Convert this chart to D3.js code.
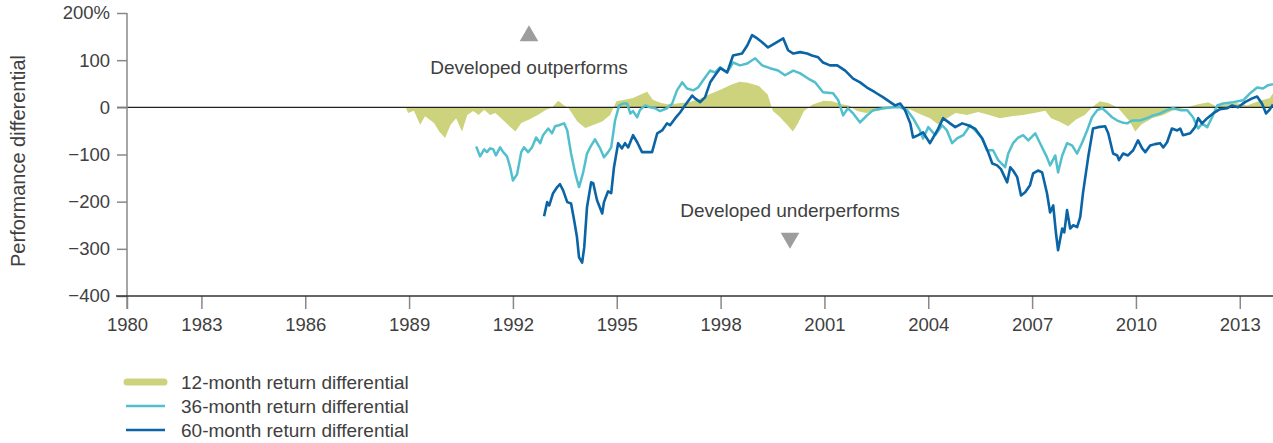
<!DOCTYPE html>
<html>
<head>
<meta charset="utf-8">
<script src="https://cdn.jsdelivr.net/npm/d3@7"></script>
<style>
  body { margin: 0; background: #fff; }
  text { font-family: "Liberation Sans", Arial, sans-serif; fill: #404040; }
</style>
</head>
<body>
<div id="chart"></div>
<script>
let width = 1273,
    height = 443;

// x ticks: first one sits on the axis origin and is labelled 1980
const xTickYears = [1980.85, 1983, 1986, 1989, 1992, 1995, 1998, 2001, 2004, 2007, 2010, 2013];
const xTickLabels = ["1980", "1983", "1986", "1989", "1992", "1995", "1998", "2001", "2004", "2007", "2010", "2013"];
const yTicks = [200, 100, 0, -100, -200, -300, -400];

// 12-month return differential (area)
const m12Years = [1988.90, 1988.97, 1989.14, 1989.32, 1989.46, 1989.72, 1989.87, 1990.04, 1990.20, 1990.36, 1990.53, 1990.68, 1990.85, 1991.01, 1991.17, 1991.34, 1991.49, 1991.66, 1991.90, 1992.07, 1992.24, 1992.47, 1992.72, 1992.96, 1993.12, 1993.31, 1993.48, 1993.60, 1993.86, 1994.09, 1994.34, 1994.58, 1994.81, 1994.99, 1995.23, 1995.47, 1995.71, 1995.88, 1996.04, 1996.28, 1996.52, 1996.85, 1997.09, 1997.33, 1997.66, 1997.98, 1998.30, 1998.55, 1998.79, 1999.11, 1999.36, 1999.51, 1999.69, 1999.92, 2000.09, 2000.24, 2000.41, 2000.66, 2000.98, 2001.22, 2001.47, 2001.71, 2001.94, 2002.20, 2002.52, 2002.84, 2003.16, 2003.49, 2003.82, 2004.05, 2004.30, 2004.54, 2004.79, 2005.12, 2005.44, 2005.76, 2006.07, 2006.41, 2006.74, 2007.06, 2007.38, 2007.55, 2007.78, 2008.04, 2008.27, 2008.52, 2008.76, 2008.96, 2009.20, 2009.48, 2009.82, 2009.98, 2010.15, 2010.47, 2010.79, 2011.03, 2011.44, 2011.77, 2012.09, 2012.33, 2012.58, 2012.89, 2013.21, 2013.54, 2013.87, 2013.96];
const m12Values = [0, -12, -7, -37, -19, -33, -51, -65, -37, -23, -51, -16, -8, -16, -5, -16, -12, -23, -40, -51, -33, -26, -16, -5, -1, 14, 4, -1, -30, -44, -37, -30, -16, 13, 16, 20, 28, 33, 16, 9, 6, 9, 11, 16, 27, 37, 48, 54, 52, 45, 27, -8, -19, -37, -51, -33, -8, 6, 14, 13, 7, 4, -8, -12, -8, -3, -1, -5, -16, -23, -37, -23, -12, -16, -10, -16, -23, -19, -16, -12, -7, -23, -30, -40, -26, -16, 2, 13, 9, -1, -30, -51, -37, -23, -16, -8, -1, 6, 11, 2, 6, 9, 4, 13, 20, 30];

// 36-month return differential
const m36Years = [1990.94, 1991.05, 1991.17, 1991.25, 1991.34, 1991.43, 1991.51, 1991.63, 1991.72, 1991.83, 1991.92, 1992.00, 1992.12, 1992.24, 1992.32, 1992.44, 1992.55, 1992.67, 1992.79, 1992.87, 1993.02, 1993.13, 1993.22, 1993.33, 1993.48, 1993.57, 1993.68, 1993.80, 1993.91, 1994.03, 1994.14, 1994.26, 1994.37, 1994.52, 1994.63, 1994.75, 1994.84, 1994.95, 1995.07, 1995.18, 1995.30, 1995.39, 1995.47, 1995.59, 1995.67, 1995.82, 1995.96, 1996.11, 1996.25, 1996.45, 1996.60, 1996.74, 1996.89, 1997.03, 1997.21, 1997.35, 1997.49, 1997.70, 1997.84, 1997.99, 1998.19, 1998.36, 1998.56, 1998.77, 1999.00, 1999.20, 1999.43, 1999.66, 1999.86, 2000.10, 2000.30, 2000.53, 2000.73, 2000.96, 2001.25, 2001.40, 2001.54, 2001.68, 2001.83, 2002.03, 2002.23, 2002.41, 2002.70, 2002.98, 2003.19, 2003.39, 2003.56, 2003.76, 2003.85, 2004.00, 2004.20, 2004.40, 2004.54, 2004.69, 2004.83, 2005.01, 2005.21, 2005.41, 2005.56, 2005.70, 2005.87, 2006.02, 2006.22, 2006.31, 2006.45, 2006.60, 2006.74, 2006.89, 2007.09, 2007.23, 2007.43, 2007.52, 2007.67, 2007.75, 2007.87, 2008.01, 2008.16, 2008.30, 2008.45, 2008.59, 2008.73, 2008.88, 2009.02, 2009.17, 2009.31, 2009.46, 2009.60, 2009.75, 2009.89, 2010.12, 2010.32, 2010.50, 2010.70, 2010.90, 2011.07, 2011.28, 2011.48, 2011.65, 2011.80, 2011.91, 2012.06, 2012.20, 2012.35, 2012.52, 2012.81, 2013.10, 2013.30, 2013.50, 2013.67, 2013.82, 2013.96];
const m36Values = [-83, -104, -89, -95, -87, -89, -102, -85, -95, -104, -127, -155, -142, -95, -85, -95, -85, -64, -76, -59, -45, -55, -40, -38, -34, -49, -98, -140, -169, -138, -98, -81, -68, -87, -106, -95, -85, -28, 4, 8, 8, -13, -8, -21, -6, 4, 0, -2, -8, -2, 8, 36, 53, 40, 36, 42, 57, 78, 74, 85, 74, 95, 89, 93, 104, 89, 83, 78, 68, 78, 72, 61, 53, 32, 30, 15, -17, -2, -13, -32, -17, -6, -2, 0, 0, -6, -23, -49, -66, -42, -59, -38, -49, -76, -66, -59, -38, -53, -66, -91, -91, -112, -127, -98, -76, -64, -59, -70, -55, -76, -106, -123, -102, -138, -102, -76, -81, -98, -74, -49, -21, -6, -2, -11, -21, -28, -32, -34, -28, -28, -23, -17, -13, -6, -2, -6, -6, -21, -45, -34, -42, -21, 4, 8, 11, 15, 30, 42, 40, 47, 49];

// 60-month return differential
const m60Years = [1992.90, 1992.99, 1993.05, 1993.16, 1993.28, 1993.36, 1993.45, 1993.57, 1993.68, 1993.77, 1993.85, 1993.91, 1994.00, 1994.06, 1994.14, 1994.26, 1994.32, 1994.43, 1994.58, 1994.63, 1994.75, 1994.84, 1994.92, 1995.04, 1995.15, 1995.24, 1995.33, 1995.47, 1995.59, 1995.73, 1995.88, 1996.02, 1996.17, 1996.31, 1996.45, 1996.54, 1996.69, 1996.83, 1996.97, 1997.18, 1997.26, 1997.41, 1997.55, 1997.70, 1997.84, 1997.99, 1998.19, 1998.36, 1998.62, 1998.77, 1998.91, 1999.06, 1999.20, 1999.37, 1999.58, 1999.81, 1999.95, 2000.10, 2000.30, 2000.50, 2000.64, 2000.82, 2000.96, 2001.16, 2001.37, 2001.60, 2001.83, 2002.03, 2002.23, 2002.46, 2002.70, 2002.90, 2003.04, 2003.19, 2003.33, 2003.48, 2003.56, 2003.71, 2003.85, 2004.05, 2004.26, 2004.43, 2004.63, 2004.78, 2004.98, 2005.15, 2005.35, 2005.56, 2005.73, 2005.85, 2005.99, 2006.10, 2006.28, 2006.37, 2006.45, 2006.57, 2006.68, 2006.80, 2006.94, 2007.03, 2007.17, 2007.29, 2007.43, 2007.52, 2007.61, 2007.69, 2007.75, 2007.87, 2007.93, 2008.01, 2008.10, 2008.19, 2008.30, 2008.39, 2008.47, 2008.62, 2008.76, 2008.91, 2009.11, 2009.20, 2009.34, 2009.46, 2009.51, 2009.63, 2009.77, 2009.92, 2010.06, 2010.18, 2010.27, 2010.41, 2010.55, 2010.70, 2010.79, 2010.90, 2011.04, 2011.19, 2011.28, 2011.36, 2011.57, 2011.71, 2011.80, 2011.91, 2012.06, 2012.23, 2012.43, 2012.63, 2012.78, 2012.95, 2013.15, 2013.36, 2013.50, 2013.64, 2013.76, 2013.85, 2013.96];
const m60Values = [-231, -201, -208, -182, -169, -163, -176, -201, -204, -240, -275, -318, -329, -297, -212, -159, -161, -197, -225, -201, -178, -182, -127, -76, -87, -76, -85, -59, -74, -95, -95, -95, -55, -49, -34, -38, -23, -11, 4, 25, 19, 11, 21, 53, 68, 83, 74, 110, 114, 131, 153, 146, 138, 127, 136, 146, 121, 114, 117, 114, 110, 106, 95, 89, 89, 78, 61, 53, 42, 32, 21, 11, 4, 8, -6, -34, -64, -59, -53, -76, -49, -23, -34, -42, -34, -38, -45, -66, -95, -119, -123, -131, -159, -127, -134, -148, -187, -180, -165, -140, -134, -138, -182, -223, -208, -267, -303, -257, -265, -218, -257, -250, -254, -233, -182, -106, -45, -42, -40, -55, -98, -102, -112, -98, -102, -91, -70, -87, -95, -81, -78, -76, -85, -74, -45, -49, -45, -59, -55, -42, -23, -34, -23, -13, -4, -2, 4, 0, 11, 19, 23, 8, -13, -6, 6];

const legendLabels = ["12-month return differential", "36-month return differential", "60-month return differential"];

const colGreen = "#cdd37c", colCyan = "#52bfcd", colBlue = "#0a64a6";

const svg = d3.select("#chart")
  .append("svg")
  .attr("width", width)
  .attr("height", height);

let x = d3.scaleLinear()
  .domain([1980.85, 2013.96])
  .range([127, 1273]);

let y = d3.scaleLinear()
  .domain([-400, 200])
  .range([296, 13]);

const zip = (xs, vs) => xs.map((t, i) => ({ t: t, v: vs[i] }));
const m12 = zip(m12Years, m12Values),
      m36 = zip(m36Years, m36Values),
      m60 = zip(m60Years, m60Values);

// 12-month area first, lines go on top
svg.append("path")
  .datum(m12)
  .attr("fill", colGreen)
  .attr("d", d3.area().x(d => x(d.t)).y0(y(0)).y1(d => y(d.v)));

// zero line
svg.append("line")
  .attr("x1", 117).attr("x2", width)
  .attr("y1", y(0)).attr("y2", y(0))
  .attr("stroke", "#222").attr("stroke-width", 1.3);

const line = d3.line().x(d => x(d.t)).y(d => y(d.v));

svg.append("path")
  .datum(m36)
  .attr("fill", "none")
  .attr("stroke", colCyan)
  .attr("stroke-width", 2.5)
  .attr("stroke-linejoin", "round")
  .attr("d", line);

svg.append("path")
  .datum(m60)
  .attr("fill", "none")
  .attr("stroke", colBlue)
  .attr("stroke-width", 2.6)
  .attr("stroke-linejoin", "round")
  .attr("d", line);

// y axis
const yAxis = svg.append("g")
  .attr("transform", "translate(127,0)")
  .call(d3.axisLeft(y).tickValues(yTicks).tickSize(10).tickPadding(7)
    .tickFormat(d => d === 200 ? "200%" : (d < 0 ? "\u2212" + Math.abs(d) : d)));
yAxis.select(".domain").remove();
yAxis.selectAll(".tick line").attr("stroke", "#888").attr("stroke-width", 1.5);
yAxis.selectAll(".tick text").attr("font-size", 18.5).attr("fill", "#404040");

svg.append("line")
  .attr("x1", 127).attr("x2", 127)
  .attr("y1", y(200)).attr("y2", 309)
  .attr("stroke", "#888").attr("stroke-width", 1.5);

// x axis
const xAxis = svg.append("g")
  .attr("transform", `translate(0,${y(-400)})`)
  .call(d3.axisBottom(x).tickValues(xTickYears).tickSize(13).tickPadding(9)
    .tickFormat((d, i) => xTickLabels[i]));
xAxis.select(".domain").remove();
xAxis.selectAll(".tick line").attr("stroke", "#888").attr("stroke-width", 1.5);
xAxis.selectAll(".tick text").attr("font-size", 18.5).attr("fill", "#404040");

svg.append("line")
  .attr("x1", 116).attr("x2", width)
  .attr("y1", y(-400)).attr("y2", y(-400))
  .attr("stroke", "#333").attr("stroke-width", 1.5);

// y title
svg.append("text")
  .attr("transform", "translate(25,161) rotate(-90)")
  .attr("text-anchor", "middle")
  .attr("font-size", 20)
  .text("Performance differential");

// annotations
svg.append("path")
  .attr("d", d3.symbol(d3.symbolTriangle, 150)())
  .attr("transform", "translate(529,36)")
  .attr("fill", "#9d9d9d");
svg.append("text")
  .attr("x", 529).attr("y", 74)
  .attr("text-anchor", "middle").attr("font-size", 19)
  .text("Developed outperforms");

svg.append("path")
  .attr("d", d3.symbol(d3.symbolTriangle, 150)())
  .attr("transform", "translate(790,238) rotate(180)")
  .attr("fill", "#9d9d9d");
svg.append("text")
  .attr("x", 790).attr("y", 217)
  .attr("text-anchor", "middle").attr("font-size", 19)
  .text("Developed underperforms");

// legend
const legend = svg.append("g");
const legendRows = [
  { c: colGreen, w: 7, y: 382 },
  { c: colCyan, w: 2.5, y: 406 },
  { c: colBlue, w: 2.6, y: 430 }
];
legendRows.forEach((r, i) => {
  legend.append("line")
    .attr("x1", i === 0 ? 127 : 126).attr("x2", i === 0 ? 164 : 165)
    .attr("y1", r.y).attr("y2", r.y)
    .attr("stroke", r.c).attr("stroke-width", r.w)
    .attr("stroke-linecap", i === 0 ? "round" : "butt");
  legend.append("text")
    .attr("x", 181).attr("y", r.y + 7)
    .attr("font-size", 19)
    .text(legendLabels[i]);
});
</script>
</body>
</html>
